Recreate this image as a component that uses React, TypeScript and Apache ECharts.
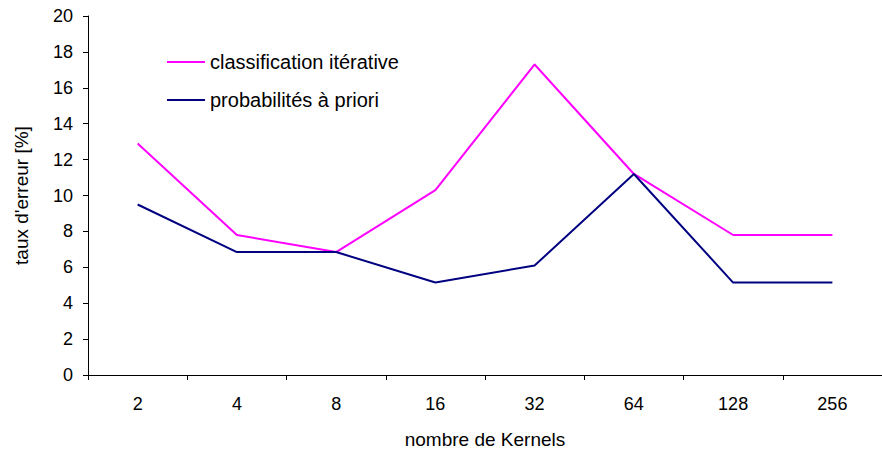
import React, { useEffect, useRef } from "react";
import * as echarts from "echarts";

const categories = ["2", "4", "8", "16", "32", "64", "128", "256"];
const classificationIterative = [12.9, 7.8, 6.85, 10.3, 17.3, 11.2, 7.8, 7.8];
const probabilitesAPriori = [9.5, 6.85, 6.85, 5.15, 6.1, 11.2, 5.15, 5.15];
const seriesNames = ["classification itérative", "probabilités à priori"];

export default function App() {
  const ref = useRef<HTMLDivElement>(null);
  useEffect(() => {
    if (!ref.current) return;
    const chart = echarts.init(ref.current, undefined, { renderer: "svg" });
    const font = "'Liberation Sans', Arial, sans-serif";
    chart.setOption({
      animation: false,
      backgroundColor: "#ffffff",
      textStyle: { fontFamily: font },
      grid: { left: 88, top: 16, width: 805, height: 360, containLabel: false },
      legend: {
        orient: "vertical",
        left: 162,
        top: 47,
        itemWidth: 38,
        itemHeight: 14,
        itemGap: 18,
        textStyle: { fontSize: 20, color: "#000", fontFamily: font },
        data: seriesNames.map((n) => ({ name: n, icon: "path://M0,6 L38,6 L38,8 L0,8 Z" })),
      },
      xAxis: {
        type: "category",
        data: categories,
        boundaryGap: true,
        name: "nombre de Kernels",
        nameLocation: "middle",
        nameGap: 55,
        nameTextStyle: { fontSize: 19, color: "#000", fontFamily: font },
        axisLine: { lineStyle: { color: "#000", width: 1 } },
        axisTick: { show: true, length: 5, inside: false, alignWithLabel: false, lineStyle: { color: "#000" } },
        axisLabel: { fontSize: 18, color: "#000", margin: 20, fontFamily: font },
        splitLine: { show: false },
      },
      yAxis: {
        type: "value",
        min: 0,
        max: 20,
        interval: 2,
        name: "taux d'erreur [%]",
        nameLocation: "middle",
        nameGap: 57,
        nameRotate: 90,
        nameTextStyle: { fontSize: 19, color: "#000", fontFamily: font },
        axisLine: { show: true, lineStyle: { color: "#000", width: 1 } },
        axisTick: { show: true, length: 5, lineStyle: { color: "#000" } },
        axisLabel: { fontSize: 18, color: "#000", margin: 15, fontFamily: font },
        splitLine: { show: false },
      },
      series: [
        {
          name: seriesNames[0],
          type: "line",
          data: classificationIterative,
          symbol: "none",
          lineStyle: { color: "#FF00FF", width: 2 },
          itemStyle: { color: "#FF00FF" },
        },
        {
          name: seriesNames[1],
          type: "line",
          data: probabilitesAPriori,
          symbol: "none",
          lineStyle: { color: "#000080", width: 2 },
          itemStyle: { color: "#000080" },
        },
      ],
    });
    return () => chart.dispose();
  }, []);
  return <div ref={ref} style={{ width: 882, height: 454, position: "absolute", left: 0, top: 0 }} />;
}
